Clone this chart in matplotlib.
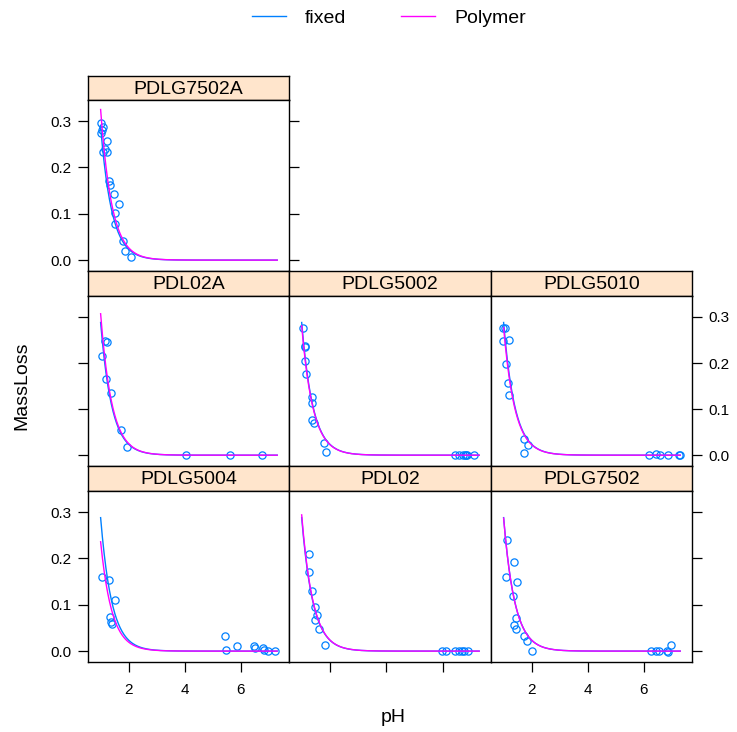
import numpy as np
import matplotlib.pyplot as plt
from matplotlib.lines import Line2D

plt.rcParams.update({
    'font.family': ['Liberation Sans', 'DejaVu Sans'],
    'font.size': 14,
})

BLUE = '#0080ff'
MAGENTA = '#ff00ff'
STRIP = '#ffe5cc'
W, H = 737, 732

# --- data (pH, MassLoss) ---
PH_PDLG7502A = [1.00, 1.09, 1.04, 1.00, 1.23, 1.15, 1.09, 1.23, 1.30, 1.32,
                1.48, 1.65, 1.53, 1.53, 1.80, 1.86, 2.07]
ML_PDLG7502A = [0.295, 0.288, 0.280, 0.275, 0.256, 0.240, 0.233, 0.233, 0.171,
                0.163, 0.142, 0.122, 0.101, 0.077, 0.041, 0.020, 0.007]

PH_PDL02A = [1.15, 1.24, 1.06, 1.20, 1.38, 1.72, 1.94, 4.03, 5.60, 6.74]
ML_PDL02A = [0.248, 0.245, 0.215, 0.166, 0.135, 0.055, 0.018, 0.0, 0.0, 0.0]

PH_PDLG5002 = [1.05, 1.13, 1.11, 1.11, 1.17, 1.35, 1.35, 1.38, 1.44, 1.80,
               1.88, 6.43, 6.59, 6.71, 6.79, 6.82, 6.88, 7.12]
ML_PDLG5002 = [0.276, 0.237, 0.234, 0.204, 0.176, 0.127, 0.113, 0.076, 0.069,
               0.027, 0.006, 0.0, 0.0, 0.0, 0.0, 0.0, 0.0, 0.0]

PH_PDLG5010 = [0.99, 1.05, 0.97, 1.20, 1.09, 1.17, 1.19, 1.74, 1.86, 1.74,
               6.17, 6.43, 6.59, 6.88, 7.24, 7.28]
ML_PDLG5010 = [0.276, 0.276, 0.248, 0.251, 0.198, 0.157, 0.130, 0.036, 0.023,
               0.005, 0.0, 0.002, 0.0, 0.0, 0.0, 0.001]

PH_PDLG5004 = [1.05, 1.29, 1.53, 1.32, 1.36, 1.41, 5.45, 5.49, 5.87, 6.47,
               6.50, 6.80, 6.82, 6.98, 7.23]
ML_PDLG5004 = [0.159, 0.153, 0.111, 0.074, 0.062, 0.058, 0.033, 0.002, 0.011,
               0.011, 0.006, 0.007, 0.002, 0.0, 0.001]

PH_PDL02 = [1.25, 1.25, 1.37, 1.47, 1.53, 1.49, 1.62, 1.82, 5.99, 6.14, 6.44,
            6.59, 6.68, 6.76, 6.91]
ML_PDL02 = [0.209, 0.171, 0.130, 0.096, 0.078, 0.068, 0.047, 0.013, 0.0, 0.0,
            0.0, 0.0, 0.0, 0.0, 0.0]

PH_PDLG7502 = [1.13, 1.38, 1.09, 1.47, 1.35, 1.43, 1.37, 1.44, 1.71, 1.85,
               2.00, 6.25, 6.44, 6.53, 6.82, 6.86, 6.98]
ML_PDLG7502 = [0.240, 0.192, 0.159, 0.149, 0.119, 0.072, 0.056, 0.047, 0.032,
               0.022, 0.0, 0.0, 0.001, 0.001, 0.0, -0.001, 0.013]

# fitted exponential decay: MassLoss = amp * exp(-rate * (pH - 1))
FIXED_AMP = 0.288
RATE = 2.5
POLY_AMP = {'PDLG7502A': 0.325, 'PDL02A': 0.307, 'PDLG5002': 0.281,
            'PDLG5010': 0.277, 'PDLG5004': 0.236, 'PDL02': 0.294,
            'PDLG7502': 0.287}
PH_RANGE = (1.0, 7.3)

# (name, pH, massloss, row, col)
PANELS = [
    ('PDLG7502A', PH_PDLG7502A, ML_PDLG7502A, 0, 0),
    ('PDL02A', PH_PDL02A, ML_PDL02A, 1, 0),
    ('PDLG5002', PH_PDLG5002, ML_PDLG5002, 1, 1),
    ('PDLG5010', PH_PDLG5010, ML_PDLG5010, 1, 2),
    ('PDLG5004', PH_PDLG5004, ML_PDLG5004, 2, 0),
    ('PDL02', PH_PDL02, ML_PDL02, 2, 1),
    ('PDLG7502', PH_PDLG7502, ML_PDLG7502, 2, 2),
]

COLS = [(88, 289), (289, 491), (491, 692)]
ROWS = [(76, 100, 271), (271, 296, 466), (466, 491, 662)]  # strip top, panel top, bottom


def fig_rect(x0, x1, y0, y1):
    return [x0 / W, 1 - y1 / H, (x1 - x0) / W, (y1 - y0) / H]


fig = plt.figure(figsize=(W / 100, H / 100), dpi=100)

grid = np.linspace(PH_RANGE[0], PH_RANGE[1], 200)

for name, ph, ml, r, c in PANELS:
    x0, x1 = COLS[c]
    s0, p0, p1 = ROWS[r]

    # strip
    sax = fig.add_axes(fig_rect(x0, x1, s0, p0))
    sax.set_facecolor(STRIP)
    sax.set_xticks([])
    sax.set_yticks([])
    sax.text(0.5, 0.45, name, transform=sax.transAxes, ha='center',
             va='center', fontsize=14)
    for sp in sax.spines.values():
        sp.set_linewidth(1.0)

    ax = fig.add_axes(fig_rect(x0, x1, p0, p1))
    ax.plot(ph, ml, 'o', mfc='none', mec=BLUE, ms=5.2, mew=0.9, zorder=3)
    ax.plot(grid, FIXED_AMP * np.exp(-RATE * (grid - 1)), color=BLUE,
            lw=1.0, zorder=4)
    ax.plot(grid, POLY_AMP[name] * np.exp(-RATE * (grid - 1)), color=MAGENTA,
            lw=1.0, zorder=5)
    ax.set_xlim(0.55, 7.72)
    ax.set_ylim(-0.0235, 0.3455)
    for sp in ax.spines.values():
        sp.set_linewidth(1.0)

    ax.tick_params(direction='out', length=7, width=0.9, labelsize=11, pad=5)
    ax.tick_params(axis='x', pad=8)
    ax.set_yticks([0.0, 0.1, 0.2, 0.3])
    ax.set_yticklabels(['0.0', '0.1', '0.2', '0.3'])
    ax.set_xticks([2, 4, 6])

    # y axis: alternate labels left/right by row
    right_tick = (c == 2) or (r == 0)
    left_tick = (c == 0)
    ax.tick_params(axis='y', left=left_tick, right=right_tick,
                   labelleft=(left_tick and r != 1),
                   labelright=(right_tick and r == 1))
    # x axis: bottom row only, labels on cols 1 and 3
    ax.tick_params(axis='x', bottom=(r == 2), top=False,
                   labelbottom=(r == 2 and c != 1))

fig.text(393 / W, 1 - 718 / H, 'pH', ha='center', va='center', fontsize=14)
fig.text(22 / W, 1 - 386 / H, 'MassLoss', ha='center', va='center',
         rotation=90, fontsize=14)

handles = [Line2D([], [], color=BLUE, lw=1.0),
           Line2D([], [], color=MAGENTA, lw=1.0)]
fig.legend(handles, ['fixed', 'Polymer'], loc='center',
           bbox_to_anchor=(389 / W, 1 - 18 / H), ncol=2, frameon=False,
           fontsize=14, handlelength=1.75, handletextpad=1.0,
           columnspacing=2.8)

fig.savefig('out.png', dpi=100)
